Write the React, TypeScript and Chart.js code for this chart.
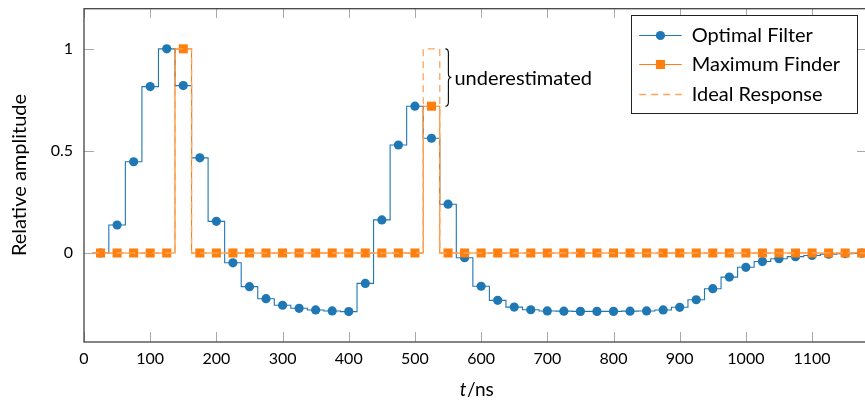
import React, { useEffect, useRef } from "react";
import { Chart, registerables } from "chart.js";

Chart.register(...registerables);

// ---------- data ----------
const times = [
  25, 50, 75, 100, 125, 150, 175, 200, 225, 250, 275, 300, 325, 350, 375, 400,
  425, 450, 475, 500, 525, 550, 575, 600, 625, 650, 675, 700, 725, 750, 775, 800,
  825, 850, 875, 900, 925, 950, 975, 1000, 1025, 1050, 1075, 1100, 1125, 1150, 1175,
];

const optimalFilter = [
  0, 0.137, 0.447, 0.815, 1.0, 0.82, 0.466, 0.155, -0.048, -0.165, -0.224, -0.256,
  -0.271, -0.279, -0.284, -0.287, -0.149, 0.162, 0.529, 0.719, 0.562, 0.239, -0.023,
  -0.163, -0.232, -0.265, -0.278, -0.284, -0.285, -0.286, -0.286, -0.286, -0.285,
  -0.284, -0.279, -0.266, -0.229, -0.175, -0.118, -0.07, -0.042, -0.028, -0.018,
  -0.012, -0.006, -0.003, -0.001,
];

const maximumFinder = [
  0, 0, 0, 0, 0, 1.0, 0, 0, 0, 0, 0, 0, 0, 0, 0, 0, 0, 0, 0, 0, 0.719, 0, 0, 0, 0,
  0, 0, 0, 0, 0, 0, 0, 0, 0, 0, 0, 0, 0, 0, 0, 0, 0, 0, 0, 0, 0, 0,
];

const idealResponse = [
  0, 0, 0, 0, 0, 1, 0, 0, 0, 0, 0, 0, 0, 0, 0, 0, 0, 0, 0, 0, 1, 0, 0, 0, 0, 0, 0,
  0, 0, 0, 0, 0, 0, 0, 0, 0, 0, 0, 0, 0, 0, 0, 0, 0, 0, 0, 0,
];

const xTicks = [0, 100, 200, 300, 400, 500, 600, 700, 800, 900, 1000, 1100];
const yTicks = [0, 0.5, 1];
const seriesLabels = ["Optimal Filter", "Maximum Finder", "Ideal Response"];
const annotationText = "underestimated";
const annotationT = 546;
const annotationTop = 1;
const annotationBottom = 0.719;

const X_MIN = 0;
const X_MAX = 1183;
const Y_MIN = -0.436;
const Y_MAX = 1.2;
const SAMPLE_STEP = 25;

// ---------- style ----------
const BLUE = "#1f77b4";
const ORANGE = "#ff7f0e";
const ORANGE_LIGHT = "#ffa35c";
const FRAME = "#444444";
const TICK = "#a8a8a8";
const FONT = "Lato";
const DASH = [7, 5];
const CIRCLE_R = 4.6;
const SQUARE_R = 6.4;

// const plot mark mid: each sample holds its value for +-half a step
function stepLine(values: number[]) {
  const pts: { x: number; y: number }[] = [];
  times.forEach((t, i) => {
    pts.push({ x: t - SAMPLE_STEP / 2, y: values[i] });
    pts.push({ x: t + SAMPLE_STEP / 2, y: values[i] });
  });
  return pts;
}
function marks(values: number[]) {
  return times.map((t, i) => ({ x: t, y: values[i] }));
}

function noPad(s: any) {
  s.paddingTop = 0;
  s.paddingBottom = 0;
  s.paddingLeft = 0;
  s.paddingRight = 0;
}

const framePlugin = {
  id: "frameTicks",
  beforeDatasetsDraw(chart: any) {
    const { ctx, chartArea: a, scales } = chart;
    ctx.save();
    ctx.strokeStyle = TICK;
    ctx.lineWidth = 1;
    const L = 10;
    ctx.beginPath();
    xTicks.forEach((v) => {
      const x = Math.round(scales.x.getPixelForValue(v)) + 0.5;
      ctx.moveTo(x, a.bottom);
      ctx.lineTo(x, a.bottom - L);
      ctx.moveTo(x, a.top);
      ctx.lineTo(x, a.top + L);
    });
    yTicks.forEach((v) => {
      const y = Math.round(scales.y.getPixelForValue(v)) + 0.5;
      ctx.moveTo(a.left, y);
      ctx.lineTo(a.left + L, y);
      ctx.moveTo(a.right, y);
      ctx.lineTo(a.right - L, y);
    });
    ctx.stroke();
    ctx.restore();
  },
  afterDatasetsDraw(chart: any) {
    const { ctx, chartArea: a, scales } = chart;
    ctx.save();
    // frame
    ctx.strokeStyle = FRAME;
    ctx.lineWidth = 1.3;
    ctx.strokeRect(a.left, a.top + 0.7, a.right - a.left, a.bottom - a.top - 0.7);

    // brace annotation
    const x0 = scales.x.getPixelForValue(annotationT);
    const yT = scales.y.getPixelForValue(annotationTop);
    const yB = scales.y.getPixelForValue(annotationBottom);
    const yM = (yT + yB) / 2;
    ctx.strokeStyle = "#000";
    ctx.lineWidth = 1.1;
    ctx.beginPath();
    ctx.moveTo(x0, yT);
    ctx.quadraticCurveTo(x0 + 3, yT, x0 + 3, yT + 4);
    ctx.lineTo(x0 + 3, yM - 4);
    ctx.quadraticCurveTo(x0 + 3, yM, x0 + 6, yM);
    ctx.quadraticCurveTo(x0 + 3, yM, x0 + 3, yM + 4);
    ctx.lineTo(x0 + 3, yB - 4);
    ctx.quadraticCurveTo(x0 + 3, yB, x0, yB);
    ctx.stroke();
    ctx.fillStyle = "#000";
    ctx.font = `20px ${FONT}`;
    ctx.textAlign = "left";
    ctx.textBaseline = "middle";
    ctx.fillText(annotationText, x0 + 9, yM + 1);
    ctx.restore();
  },
  afterDraw(chart: any) {
    const { ctx, chartArea: a } = chart;
    ctx.save();
    // x axis title with italic t
    const italic = `italic 19px ${FONT}`;
    const regular = `19px ${FONT}`;
    ctx.font = italic;
    const w1 = ctx.measureText("t").width;
    ctx.font = regular;
    const w2 = ctx.measureText("/ns").width;
    const cx = (a.left + a.right) / 2 + 1;
    const ty = 382;
    const x = cx - (w1 + w2) / 2;
    ctx.fillStyle = "#000";
    ctx.textBaseline = "middle";
    ctx.textAlign = "left";
    ctx.font = italic;
    ctx.fillText("t", x, ty);
    ctx.font = regular;
    ctx.fillText("/ns", x + w1 + 0.5, ty);

    // legend
    const bw = 226;
    const bh = 98;
    const bx = a.right - 10.3 - bw;
    const by = a.top + 7;
    ctx.fillStyle = "#fff";
    ctx.fillRect(bx, by, bw, bh);
    ctx.strokeStyle = "#222";
    ctx.lineWidth = 1;
    ctx.strokeRect(Math.round(bx) + 0.5, Math.round(by) + 0.5, bw, bh);
    const rows = [by + 19.5, by + 48.5, by + 78.5];
    const sx0 = bx + 8.5;
    const sx1 = bx + 51;
    const smid = (sx0 + sx1) / 2;
    rows.forEach((ry, i) => {
      ctx.save();
      ctx.lineWidth = 1.2;
      if (i === 0) ctx.strokeStyle = BLUE;
      else if (i === 1) ctx.strokeStyle = ORANGE;
      else {
        ctx.strokeStyle = ORANGE_LIGHT;
        ctx.lineWidth = 1.4;
        ctx.setLineDash(DASH);
      }
      ctx.beginPath();
      ctx.moveTo(sx0, Math.round(ry) + 0.5);
      ctx.lineTo(sx1, Math.round(ry) + 0.5);
      ctx.stroke();
      ctx.restore();
      if (i === 0) {
        ctx.fillStyle = BLUE;
        ctx.beginPath();
        ctx.arc(smid, Math.round(ry) + 0.5, CIRCLE_R, 0, Math.PI * 2);
        ctx.fill();
      } else if (i === 1) {
        ctx.fillStyle = ORANGE;
        const s = SQUARE_R * Math.SQRT1_2;
        ctx.fillRect(smid - s, Math.round(ry) + 0.5 - s, 2 * s, 2 * s);
      }
      ctx.fillStyle = "#000";
      ctx.font = `20px ${FONT}`;
      ctx.textAlign = "left";
      ctx.textBaseline = "middle";
      ctx.fillText(seriesLabels[i], bx + 61, ry + 1);
    });
    ctx.restore();
  },
};

export default function App() {
  const ref = useRef<HTMLCanvasElement | null>(null);

  useEffect(() => {
    if (!ref.current) return;
    const chart = new Chart(ref.current, {
      type: "line",
      data: {
        datasets: [
          {
            label: seriesLabels[2],
            data: stepLine(idealResponse),
            borderColor: ORANGE_LIGHT,
            borderWidth: 1.3,
            borderDash: DASH,
            pointRadius: 0,
            fill: false,
            order: 0,
          },
          {
            label: seriesLabels[1] + " marks",
            data: marks(maximumFinder),
            showLine: false,
            pointStyle: "rect",
            pointRadius: SQUARE_R,
            pointBackgroundColor: ORANGE,
            pointBorderWidth: 0,
            borderColor: ORANGE,
            order: 1,
          },
          {
            label: seriesLabels[1],
            data: stepLine(maximumFinder),
            borderColor: ORANGE,
            borderWidth: 1.1,
            pointRadius: 0,
            fill: false,
            order: 2,
          },
          {
            label: seriesLabels[0] + " marks",
            data: marks(optimalFilter),
            showLine: false,
            pointStyle: "circle",
            pointRadius: CIRCLE_R,
            pointBackgroundColor: BLUE,
            pointBorderWidth: 0,
            borderColor: BLUE,
            order: 3,
          },
          {
            label: seriesLabels[0],
            data: stepLine(optimalFilter),
            borderColor: BLUE,
            borderWidth: 1.1,
            pointRadius: 0,
            fill: false,
            order: 4,
          },
        ],
      },
      options: {
        responsive: false,
        animation: false,
        devicePixelRatio: 1,
        layout: { autoPadding: false, padding: { top: 0, right: 1, left: 0, bottom: 0 } },
        plugins: {
          legend: { display: false },
          tooltip: { enabled: false },
        },
        elements: { line: { tension: 0 } },
        scales: {
          x: {
            type: "linear",
            min: X_MIN,
            max: X_MAX,
            grid: { display: false, drawTicks: false, tickLength: 0 },
            border: { display: false },
            afterBuildTicks: (s: any) => {
              s.ticks = xTicks.map((v) => ({ value: v }));
            },
            afterFit: (s: any) => {
              s.height = 61;
              noPad(s);
            },
            ticks: {
              autoSkip: false,
              maxRotation: 0,
              padding: 7,
              color: "#000",
              font: { family: FONT, size: 16 },
              callback: (v: any) => String(v),
            },
          },
          y: {
            type: "linear",
            min: Y_MIN,
            max: Y_MAX,
            grid: { display: false, drawTicks: false, tickLength: 0 },
            border: { display: false },
            afterBuildTicks: (s: any) => {
              s.ticks = yTicks.map((v) => ({ value: v }));
            },
            afterFit: (s: any) => {
              s.width = 76;
              noPad(s);
            },
            ticks: {
              padding: 11,
              color: "#000",
              font: { family: FONT, size: 16 },
              callback: (v: any) => String(v),
            },
            title: {
              display: true,
              text: "Relative amplitude",
              color: "#000",
              font: { family: FONT, size: 20 },
              padding: { top: 0, bottom: 0 },
            },
          },
        },
      },
      plugins: [framePlugin],
    } as any);
    return () => chart.destroy();
  }, []);

  return (
    <div
      style={{
        position: "absolute",
        left: 8,
        top: 8,
        width: 857,
        height: 395,
        overflow: "hidden",
      }}
    >
      <canvas ref={ref} width={860} height={395} style={{ display: "block" }} />
    </div>
  );
}
